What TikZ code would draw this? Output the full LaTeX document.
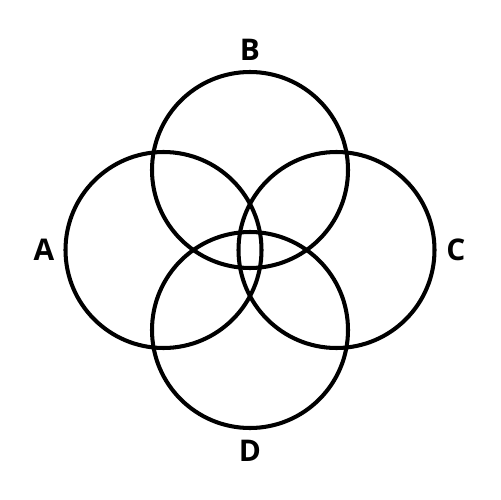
\documentclass[tikz,border=0pt]{standalone}
\usepackage{fontspec}
\setmainfont{Open Sans}
\begin{document}
\begin{tikzpicture}[x=0.02cm,y=-0.02cm,
  ring/.style={draw=black,line width=2.3pt,circle,minimum size=196*0.02cm,inner sep=0pt},
  lbl/.style={font=\fontsize{17}{17}\selectfont\bfseries,inner sep=0pt}]
\useasboundingbox (0,0) rectangle (500,500);
\node[ring] (A) at (163.5,250) {};
\node[ring] (B) at (250,170) {};
\node[ring] (C) at (336.5,250) {};
\node[ring] (D) at (250,330) {};
\node[lbl] (la) at (44,250) {A};
\node[lbl] (lb) at (250,50) {B};
\node[lbl] (lc) at (456,250) {C};
\node[lbl] (ld) at (250,451) {D};
\end{tikzpicture}
\end{document}
